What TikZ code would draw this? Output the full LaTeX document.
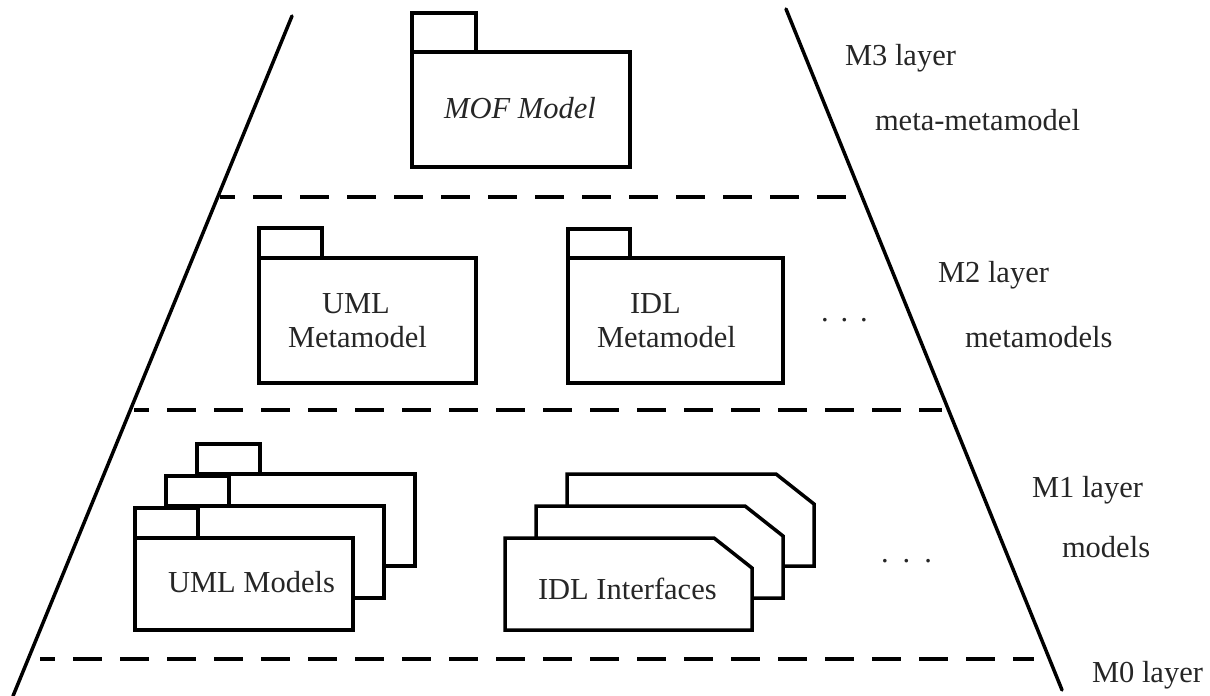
\documentclass[tikz,border=0pt]{standalone}
\usepackage{fontspec}
\setmainfont{Liberation Serif}
\usetikzlibrary{calc}
\newcommand\diagfont{\fontsize{30.5}{34}\selectfont}
\tikzset{
  outline/.style={draw=black, line width=3.5pt, line join=miter, fill=white},
  pkgbody/.style={outline, rectangle, inner sep=0pt, outer sep=0pt},
  ifframe/.style={rectangle, inner sep=0pt, outer sep=0pt,
    minimum width=247pt, minimum height=92pt},
  txt/.style={inner sep=0pt, outer sep=0pt, text=black!85, font=\diagfont},
  layerline/.style={draw=black, line width=4.5pt, dash pattern=on 29pt off 18pt, dash phase=14pt},
  sideline/.style={draw=black, line width=3.5pt, line cap=round},
}
% tab on the upper left of a package body; the body's top edge is stroked again under it
\newcommand\pkgtab[3]{%
  \draw[outline] (#1.north west) -- ++(0pt,#3) -- ++(#2,0pt) -- ++(0pt,-#3);
  \draw[line width=3.5pt] (#1.north west) -- ++(#2,0pt);}
% interface card with a cut upper right corner
\newcommand\ifcard[1]{%
  \draw[outline] (#1.south west) -- (#1.north west)
    -- ($(#1.north east)+(-38pt,0pt)$) -- ($(#1.north east)+(0pt,-30pt)$)
    -- (#1.south east) -- cycle;}
\begin{document}
\begin{tikzpicture}[x=1pt,y=-1pt]
\useasboundingbox (0,0) rectangle (1210,696);

% sides of the layer pyramid
\coordinate (lt) at (292,16);
\coordinate (lb) at (13,696);
\coordinate (rt) at (786,9);
\coordinate (rb) at (1062,690);
\draw[sideline] (lt) -- (lb);
\draw[sideline] (rt) -- (rb);

% layer separators
\coordinate (s1l) at (220,197);  \coordinate (s1r) at (852,197);
\coordinate (s2l) at (134,410);  \coordinate (s2r) at (942,410);
\coordinate (s3l) at (40,659);   \coordinate (s3r) at (1034,659);
\draw[layerline] (s1l) -- (s1r);
\draw[layerline] (s2l) -- (s2r);
\draw[layerline] (s3l) -- (s3r);

% M3: MOF model
\node[pkgbody, minimum width=218pt, minimum height=115pt] (mof) at (521,109.5) {};
\pkgtab{mof}{64pt}{39pt}
\node[txt, font=\diagfont\itshape, anchor=base] (moft) at (520,118) {MOF Model};

% M2: metamodels
\node[pkgbody, minimum width=217pt, minimum height=125pt] (umlmm) at (367.5,320.5) {};
\pkgtab{umlmm}{63pt}{30pt}
\node[txt, align=left, anchor=base west] (umlmmt) at (288,347)
  {\hspace*{34pt}UML\\Metamodel};

\node[pkgbody, minimum width=215pt, minimum height=125pt] (idlmm) at (675.5,320.5) {};
\pkgtab{idlmm}{62pt}{29pt}
\node[txt, align=left, anchor=base west] (idlmmt) at (597,347)
  {\hspace*{33pt}IDL\\Metamodel};

\node[txt, anchor=base west] (m2dots) at (821,321.5) {.\hspace{12pt}.\hspace{12pt}.};

% M1: stacked UML models
\node[pkgbody, minimum width=218pt, minimum height=92pt] (um3) at (306,520) {};
\pkgtab{um3}{63pt}{30pt}
\node[pkgbody, minimum width=218pt, minimum height=92pt] (um2) at (275,552) {};
\pkgtab{um2}{63pt}{30pt}
\node[pkgbody, minimum width=218pt, minimum height=92pt] (um1) at (244,584) {};
\pkgtab{um1}{63pt}{30pt}
\node[txt, anchor=base west] (um1t) at (168,592) {UML Models};

% M1: stacked IDL interfaces
\node[ifframe] (if3) at (690.5,520) {};
\ifcard{if3}
\node[ifframe] (if2) at (659.5,552) {};
\ifcard{if2}
\node[ifframe] (if1) at (628.5,584) {};
\ifcard{if1}
\node[txt, anchor=base west] (if1t) at (538,599) {IDL Interfaces};

\node[txt, anchor=base west] (m1dots) at (881,562) {.\hspace{14pt}.\hspace{14pt}.};

% layer names
\node[txt, anchor=base west] (m3) at (845,65) {M3 layer};
\node[txt, anchor=base west] (m3d) at (875,130) {meta-metamodel};
\node[txt, anchor=base west] (m2) at (938,282) {M2 layer};
\node[txt, anchor=base west] (m2d) at (965,347) {metamodels};
\node[txt, anchor=base west] (m1) at (1032,497) {M1 layer};
\node[txt, anchor=base west] (m1d) at (1062,557) {models};
\node[txt, anchor=base west] (m0) at (1092,682) {M0 layer};
\end{tikzpicture}
\end{document}
